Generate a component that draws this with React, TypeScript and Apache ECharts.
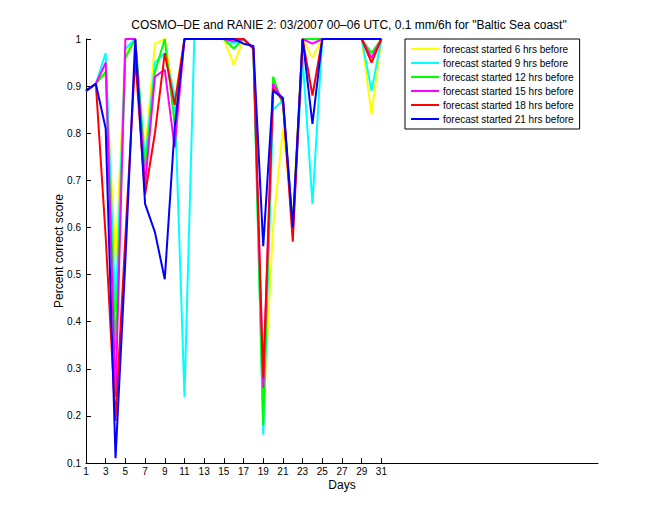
import React, { useEffect, useRef } from "react";
import * as echarts from "echarts";

const days = Array.from({ length: 31 }, (_, i) => i + 1);
const xTicks = [1, 3, 5, 7, 9, 11, 13, 15, 17, 19, 21, 23, 25, 27, 29, 31];
const yTicks = [0.1, 0.2, 0.3, 0.4, 0.5, 0.6, 0.7, 0.8, 0.9, 1];

const names = [
  "forecast started 6 hrs before",
  "forecast started 9 hrs before",
  "forecast started 12 hrs before",
  "forecast started 15 hrs before",
  "forecast started 18 hrs before",
  "forecast started 21 hrs before",
];
const colors = ["#ffff00", "#00ffff", "#00ff00", "#ff00ff", "#ff0000", "#0000ff"];

// day:          1     2     3     4     5     6     7     8     9     10    11    12 13 14 15  16    17    18    19    20    21    22    23    24    25 26 27 28 29  30    31
const h6 =  [0.89, 0.905, 0.93, 0.53, 0.97, 1.0, 0.76, 0.99, 1.0, 0.87, 1.0, 1, 1, 1, 1, 0.945, 1.0, 0.98, 0.2, 0.6, 0.81, 0.62, 1.0, 0.96, 1, 1, 1, 1, 1, 0.84, 1];
const h9 =  [0.89, 0.905, 0.97, 0.42, 0.98, 1.0, 0.74, 0.95, 0.97, 0.88, 0.24, 1, 1, 1, 1, 0.99, 1.0, 0.98, 0.16, 0.85, 0.87, 0.6, 0.96, 0.65, 1, 1, 1, 1, 1, 0.89, 1];
const h12 = [0.89, 0.905, 0.93, 0.34, 0.96, 1.0, 0.72, 0.93, 1.0, 0.82, 1.0, 1, 1, 1, 1, 0.98, 1.0, 0.98, 0.18, 0.92, 0.86, 0.6, 1.0, 1.0, 1, 1, 1, 1, 1, 0.97, 1];
const h15 = [0.89, 0.905, 0.95, 0.24, 1.0, 1.0, 0.69, 0.92, 0.935, 0.77, 1.0, 1, 1, 1, 1, 0.995, 1.0, 0.98, 0.26, 0.905, 0.87, 0.59, 1.0, 0.99, 1, 1, 1, 1, 1, 0.96, 1];
const h18 = [0.89, 0.905, 0.58, 0.19, 0.58, 0.96, 0.67, 0.8, 0.97, 0.86, 1.0, 1, 1, 1, 1, 1.0, 1.0, 0.98, 0.28, 0.895, 0.87, 0.57, 1.0, 0.88, 1, 1, 1, 1, 1, 0.95, 1];
const h21 = [0.89, 0.905, 0.81, 0.11, 0.53, 1.0, 0.65, 0.59, 0.49, 0.81, 1.0, 1, 1, 1, 1, 1.0, 0.99, 0.985, 0.56, 0.89, 0.875, 0.6, 1.0, 0.82, 1, 1, 1, 1, 1, 1.0, 1];
const seriesValues = [h6, h9, h12, h15, h18, h21];

const font = "Liberation Sans, Arial, Helvetica, sans-serif";

export default function App() {
  const ref = useRef<HTMLDivElement>(null);
  useEffect(() => {
    const chart = echarts.init(ref.current!, null, { renderer: "svg" });
    chart.setOption({
      animation: false,
      backgroundColor: "#ffffff",
      textStyle: { fontFamily: font },
      title: {
        text: 'COSMO\u2013DE and RANIE 2: 03/2007 00\u201306 UTC, 0.1 mm/6h for "Baltic Sea coast"',
        left: 344,
        top: 14,
        textAlign: "center",
        textStyle: { fontSize: 12, fontWeight: "normal", color: "#000", fontFamily: font },
      },
      grid: { left: 86, right: 62, top: 39, bottom: 57, containLabel: false },
      legend: {
        orient: "vertical",
        left: 405,
        top: 39,
        data: names,
        icon: "rect",
        itemWidth: 28,
        itemHeight: 2,
        itemGap: 4,
        padding: [5, 6, 5, 6],
        borderColor: "#000",
        borderWidth: 1,
        backgroundColor: "#fff",
        borderRadius: 0,
        textStyle: { fontSize: 10, lineHeight: 10, color: "#000", fontFamily: font, padding: [0, 0, 0, -1] },
      },
      xAxis: {
        type: "value",
        min: 1,
        max: 53,
        name: "Days",
        nameLocation: "middle",
        nameGap: 16,
        nameMoveOverlap: false,
        nameTextStyle: { fontSize: 12, color: "#000" },
        axisLine: { show: true, lineStyle: { color: "#000", width: 1 } },
        axisTick: { show: true, inside: true, length: 5, customValues: xTicks, lineStyle: { color: "#000" } },
        axisLabel: { customValues: xTicks, fontSize: 10, color: "#000", margin: 3 },
        splitLine: { show: false },
      },
      yAxis: {
        type: "value",
        min: 0.1,
        max: 1,
        interval: 0.1,
        name: "Percent correct score",
        nameLocation: "middle",
        nameGap: 21,
        nameMoveOverlap: false,
        nameTextStyle: { fontSize: 12, color: "#000" },
        axisLine: { show: true, lineStyle: { color: "#000", width: 1 } },
        axisTick: { show: true, inside: true, length: 5, customValues: yTicks, lineStyle: { color: "#000" } },
        axisLabel: {
          customValues: yTicks,
          fontSize: 10,
          color: "#000",
          margin: 5,
          formatter: (v: number) => String(+v.toFixed(1)),
        },
        splitLine: { show: false },
      },
      series: names.map((n, i) => ({
        name: n,
        type: "line",
        data: days.map((d, j) => [d, seriesValues[i][j]]),
        showSymbol: false,
        symbol: "none",
        clip: false,
        lineStyle: { color: colors[i], width: 2 },
        itemStyle: { color: colors[i] },
      })),
    });
    return () => chart.dispose();
  }, []);
  return <div ref={ref} style={{ position: "fixed", left: 0, top: 0, width: 660, height: 520 }} />;
}
